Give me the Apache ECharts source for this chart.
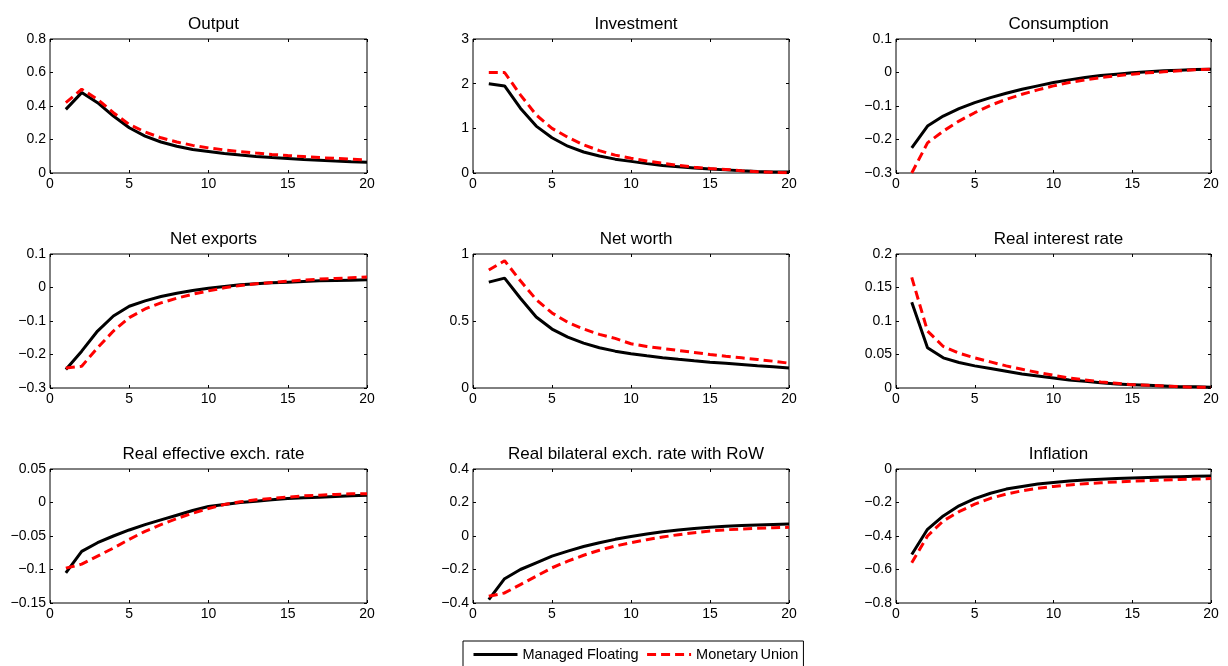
<!DOCTYPE html>
<html><head><meta charset="utf-8">
<script src="https://cdn.jsdelivr.net/npm/echarts@6/dist/echarts.min.js"></script>
<style>html,body{margin:0;padding:0;background:#fff}#c{width:1228px;height:666px}</style>
</head><body><div id="c"></div>
<script>
const periods = [1,2,3,4,5,6,7,8,9,10,11,12,13,14,15,16,17,18,19,20];
const seriesNames = ['Managed Floating', 'Monetary Union'];
const panelTitles = ['Output','Investment','Consumption','Net exports','Net worth','Real interest rate','Real effective exch. rate','Real bilateral exch. rate with RoW','Inflation'];

const outputMF = [0.38,0.48,0.42,0.34,0.27,0.22,0.185,0.16,0.14,0.128,0.116,0.107,0.099,0.092,0.086,0.080,0.076,0.071,0.067,0.064];
const outputMU = [0.42,0.50,0.44,0.36,0.29,0.245,0.21,0.185,0.165,0.15,0.138,0.128,0.119,0.111,0.104,0.098,0.092,0.087,0.082,0.078];
const investmentMF = [2.0,1.95,1.45,1.05,0.79,0.6,0.47,0.38,0.31,0.26,0.21,0.17,0.14,0.11,0.09,0.07,0.05,0.035,0.025,0.02];
const investmentMU = [2.25,2.25,1.75,1.3,1.0,0.8,0.63,0.5,0.4,0.33,0.27,0.22,0.17,0.13,0.1,0.08,0.05,0.03,0.015,0.005];
const consumptionMF = [-0.225,-0.16,-0.13,-0.108,-0.09,-0.075,-0.062,-0.05,-0.04,-0.03,-0.022,-0.015,-0.009,-0.005,-0.001,0.002,0.005,0.007,0.009,0.01];
const consumptionMU = [-0.30,-0.21,-0.175,-0.145,-0.12,-0.098,-0.08,-0.065,-0.052,-0.04,-0.03,-0.022,-0.015,-0.01,-0.005,-0.001,0.002,0.005,0.008,0.01];
const netExportsMF = [-0.245,-0.19,-0.13,-0.085,-0.056,-0.04,-0.027,-0.017,-0.009,-0.002,0.003,0.008,0.011,0.014,0.016,0.018,0.02,0.021,0.022,0.023];
const netExportsMU = [-0.24,-0.235,-0.18,-0.13,-0.09,-0.064,-0.046,-0.032,-0.02,-0.01,-0.001,0.006,0.011,0.015,0.019,0.022,0.025,0.027,0.029,0.031];
const netWorthMF = [0.79,0.82,0.67,0.53,0.44,0.38,0.335,0.30,0.275,0.255,0.24,0.226,0.214,0.203,0.193,0.184,0.175,0.166,0.158,0.15];
const netWorthMU = [0.88,0.95,0.80,0.66,0.56,0.49,0.44,0.40,0.37,0.33,0.31,0.295,0.28,0.265,0.25,0.237,0.225,0.213,0.2,0.185];
const realRateMF = [0.128,0.06,0.045,0.038,0.033,0.029,0.025,0.021,0.018,0.015,0.012,0.01,0.008,0.006,0.005,0.004,0.003,0.002,0.002,0.001];
const realRateMU = [0.165,0.085,0.062,0.052,0.045,0.039,0.033,0.028,0.023,0.019,0.015,0.012,0.009,0.007,0.005,0.004,0.003,0.002,0.001,0.001];
const reerMF = [-0.105,-0.073,-0.06,-0.05,-0.041,-0.033,-0.026,-0.019,-0.012,-0.006,-0.003,0.0,0.002,0.004,0.006,0.007,0.008,0.009,0.01,0.011];
const reerMU = [-0.098,-0.092,-0.08,-0.068,-0.055,-0.043,-0.033,-0.024,-0.016,-0.009,-0.003,0.001,0.004,0.006,0.008,0.01,0.011,0.012,0.013,0.013];
const bilateralMF = [-0.38,-0.255,-0.2,-0.16,-0.12,-0.09,-0.063,-0.04,-0.02,-0.003,0.012,0.025,0.036,0.045,0.052,0.058,0.062,0.066,0.069,0.072];
const bilateralMU = [-0.36,-0.34,-0.29,-0.24,-0.19,-0.15,-0.115,-0.085,-0.06,-0.04,-0.022,-0.006,0.008,0.02,0.03,0.037,0.042,0.046,0.049,0.052];
const inflationMF = [-0.51,-0.36,-0.28,-0.22,-0.177,-0.145,-0.12,-0.105,-0.09,-0.08,-0.072,-0.066,-0.061,-0.057,-0.054,-0.051,-0.048,-0.046,-0.044,-0.042];
const inflationMU = [-0.56,-0.40,-0.31,-0.255,-0.21,-0.175,-0.15,-0.13,-0.115,-0.104,-0.095,-0.088,-0.082,-0.077,-0.073,-0.069,-0.066,-0.063,-0.06,-0.057];

const yMins = [0, 0, -0.3, -0.3, 0, 0, -0.15, -0.4, -0.8];
const yMaxs = [0.8, 3, 0.1, 0.1, 1, 0.2, 0.05, 0.4, 0];
const yIntervals = [0.2, 1, 0.1, 0.1, 0.5, 0.05, 0.05, 0.2, 0.2];
const xMin = 0, xMax = 20, xInterval = 5;

const panelData = [
  [outputMF, outputMU], [investmentMF, investmentMU], [consumptionMF, consumptionMU],
  [netExportsMF, netExportsMU], [netWorthMF, netWorthMU], [realRateMF, realRateMU],
  [reerMF, reerMU], [bilateralMF, bilateralMU], [inflationMF, inflationMU]
];

const colLeft = [50, 473, 896];
const colWidth = [317, 316, 315];
const rowTop = [39, 254, 469];
const plotH = 134;
const FONT = '"Liberation Sans", Arial, Helvetica, sans-serif';

function fmt(v) {
  let s = String(parseFloat(Number(v).toFixed(4)));
  if (s === '-0') s = '0';
  return s.replace('-', '\u2212');
}

const grids = [], xAxes = [], yAxes = [], series = [], titles = [];
for (let i = 0; i < 9; i++) {
  const r = Math.floor(i / 3), c = i % 3;
  grids.push({left: colLeft[c], top: rowTop[r], width: colWidth[c], height: plotH,
    show: true, borderColor: '#000', borderWidth: 1, backgroundColor: 'transparent', containLabel: false});
  titles.push({text: panelTitles[i], left: colLeft[c] + colWidth[c] / 2, top: rowTop[r] - 28,
    textAlign: 'center',
    textStyle: {fontFamily: FONT, fontSize: 17, fontWeight: 'normal', color: '#000'}});
  const tick = {show: true, inside: true, length: 3, lineStyle: {color: '#000', width: 1}};
  xAxes.push({type: 'value', gridIndex: i, position: 'bottom', min: xMin, max: xMax, interval: xInterval,
    axisLine: {show: false, onZero: false}, axisTick: tick, splitLine: {show: false},
    axisLabel: {show: true, color: '#000', fontFamily: FONT, fontSize: 14, margin: 4, formatter: fmt}});
  xAxes.push({type: 'value', gridIndex: i, position: 'top', min: xMin, max: xMax, interval: xInterval,
    axisLine: {show: false, onZero: false}, axisTick: tick, splitLine: {show: false}, axisLabel: {show: false}});
  yAxes.push({type: 'value', gridIndex: i, position: 'left', min: yMins[i], max: yMaxs[i], interval: yIntervals[i],
    axisLine: {show: false, onZero: false}, axisTick: tick, splitLine: {show: false},
    axisLabel: {show: true, color: '#000', fontFamily: FONT, fontSize: 14, margin: 4, formatter: fmt}});
  yAxes.push({type: 'value', gridIndex: i, position: 'right', min: yMins[i], max: yMaxs[i], interval: yIntervals[i],
    axisLine: {show: false, onZero: false}, axisTick: tick, splitLine: {show: false}, axisLabel: {show: false}});
  const [mf, mu] = panelData[i];
  series.push({name: seriesNames[0], type: 'line', xAxisIndex: 2 * i, yAxisIndex: 2 * i,
    data: periods.map((p, k) => [p, mf[k]]), symbol: 'none', smooth: false, silent: true,
    lineStyle: {color: '#000', width: 3, type: 'solid'}, itemStyle: {color: '#000'}, z: 2});
  series.push({name: seriesNames[1], type: 'line', xAxisIndex: 2 * i, yAxisIndex: 2 * i,
    data: periods.map((p, k) => [p, mu[k]]), symbol: 'none', smooth: false, silent: true,
    lineStyle: {color: '#ff0000', width: 3, type: [9, 5]}, itemStyle: {color: '#ff0000'}, z: 3});
}

const chart = echarts.init(document.getElementById('c'), null, {renderer: 'canvas'});
chart.setOption({
  animation: false,
  backgroundColor: '#fff',
  title: titles,
  grid: grids,
  xAxis: xAxes,
  yAxis: yAxes,
  series: series,
  legend: {
    data: seriesNames,
    left: 463, top: 641,
    orient: 'horizontal',
    padding: [6, 5, 6, 9],
    itemWidth: 44, itemHeight: 14, itemGap: 7,
    borderColor: '#000', borderWidth: 1, borderRadius: 0,
    backgroundColor: '#fff',
    selectedMode: false,
    itemStyle: {opacity: 0},
    lineStyle: {width: 3},
    textStyle: {fontFamily: FONT, fontSize: 14.5, color: '#000'}
  }
});
</script>
</body></html>
